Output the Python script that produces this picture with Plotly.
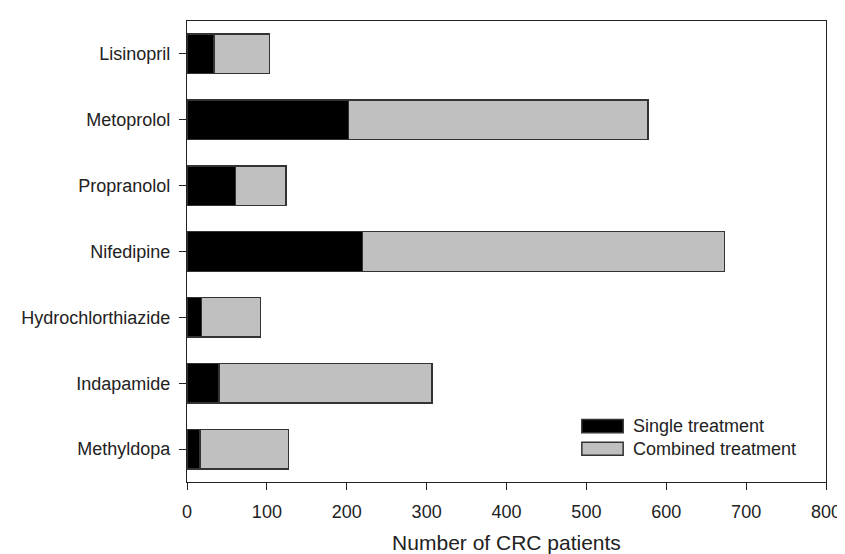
import plotly.graph_objects as go

drugs = ["Lisinopril", "Metoprolol", "Propranolol", "Nifedipine",
         "Hydrochlorthiazide", "Indapamide", "Methyldopa"]
single = [34, 202, 61, 220, 18, 40, 16]
combined = [69, 375, 63, 453, 74, 267, 111]
x_ticks = [0, 100, 200, 300, 400, 500, 600, 700, 800]
series_names = ["Single treatment", "Combined treatment"]

FONT = "Liberation Sans, Arial, sans-serif"
fill_colors = ["#000000", "#c0c0c0"]
line_color = "#333333"
txt = "#222222"

fig = go.Figure()
for name, vals, col in zip(series_names, [single, combined], fill_colors):
    fig.add_trace(go.Bar(
        y=drugs, x=vals, name=name, orientation="h",
        marker=dict(color=col, line=dict(color=line_color, width=1.5)),
        width=0.6, showlegend=False,
    ))

L, R, T, B = 179, 17, 12, 76
W, H = 845, 554
pw, ph = W - L - R, H - T - B

fig.update_layout(
    barmode="stack",
    width=W, height=H,
    margin=dict(l=L, r=R, t=T, b=B),
    paper_bgcolor="white", plot_bgcolor="white",
    font=dict(family=FONT, size=18, color=txt),
)
fig.update_xaxes(
    range=[0, 800], tickvals=x_ticks, ticks="outside", ticklen=7,
    tickcolor=txt, showline=True, linecolor=txt, linewidth=1.2,
    mirror=True, showgrid=False, zeroline=False,
    tickfont=dict(size=18), ticklabelstandoff=6,
    title=dict(text="Number of CRC patients", font=dict(size=21), standoff=14),
)
fig.update_yaxes(
    categoryorder="array", categoryarray=drugs, autorange=False,
    range=[6.5, -0.5], ticks="outside", ticklen=7, tickcolor=txt,
    showline=True, linecolor=txt, linewidth=1.2, mirror=True,
    showgrid=False, zeroline=False, tickfont=dict(size=18),
    ticklabelstandoff=5,
)

# custom legend with wide swatches (as in reference)
leg_pix_y = [421.5, 444.4]
for name, col, py in zip(series_names, fill_colors, leg_pix_y):
    yc = (H - B - py) / ph
    hh = 6.6 / ph
    fig.add_shape(type="rect", xref="paper", yref="paper",
                  x0=(580 - L) / pw, x1=(622 - L) / pw,
                  y0=yc - hh, y1=yc + hh,
                  fillcolor=col, line=dict(color=line_color, width=1.5))
    fig.add_annotation(text=name, xref="paper", yref="paper",
                       x=(630 - L) / pw, y=yc, xanchor="left",
                       yanchor="middle", showarrow=False,
                       font=dict(size=18, color=txt))

fig.write_html("out.html")
